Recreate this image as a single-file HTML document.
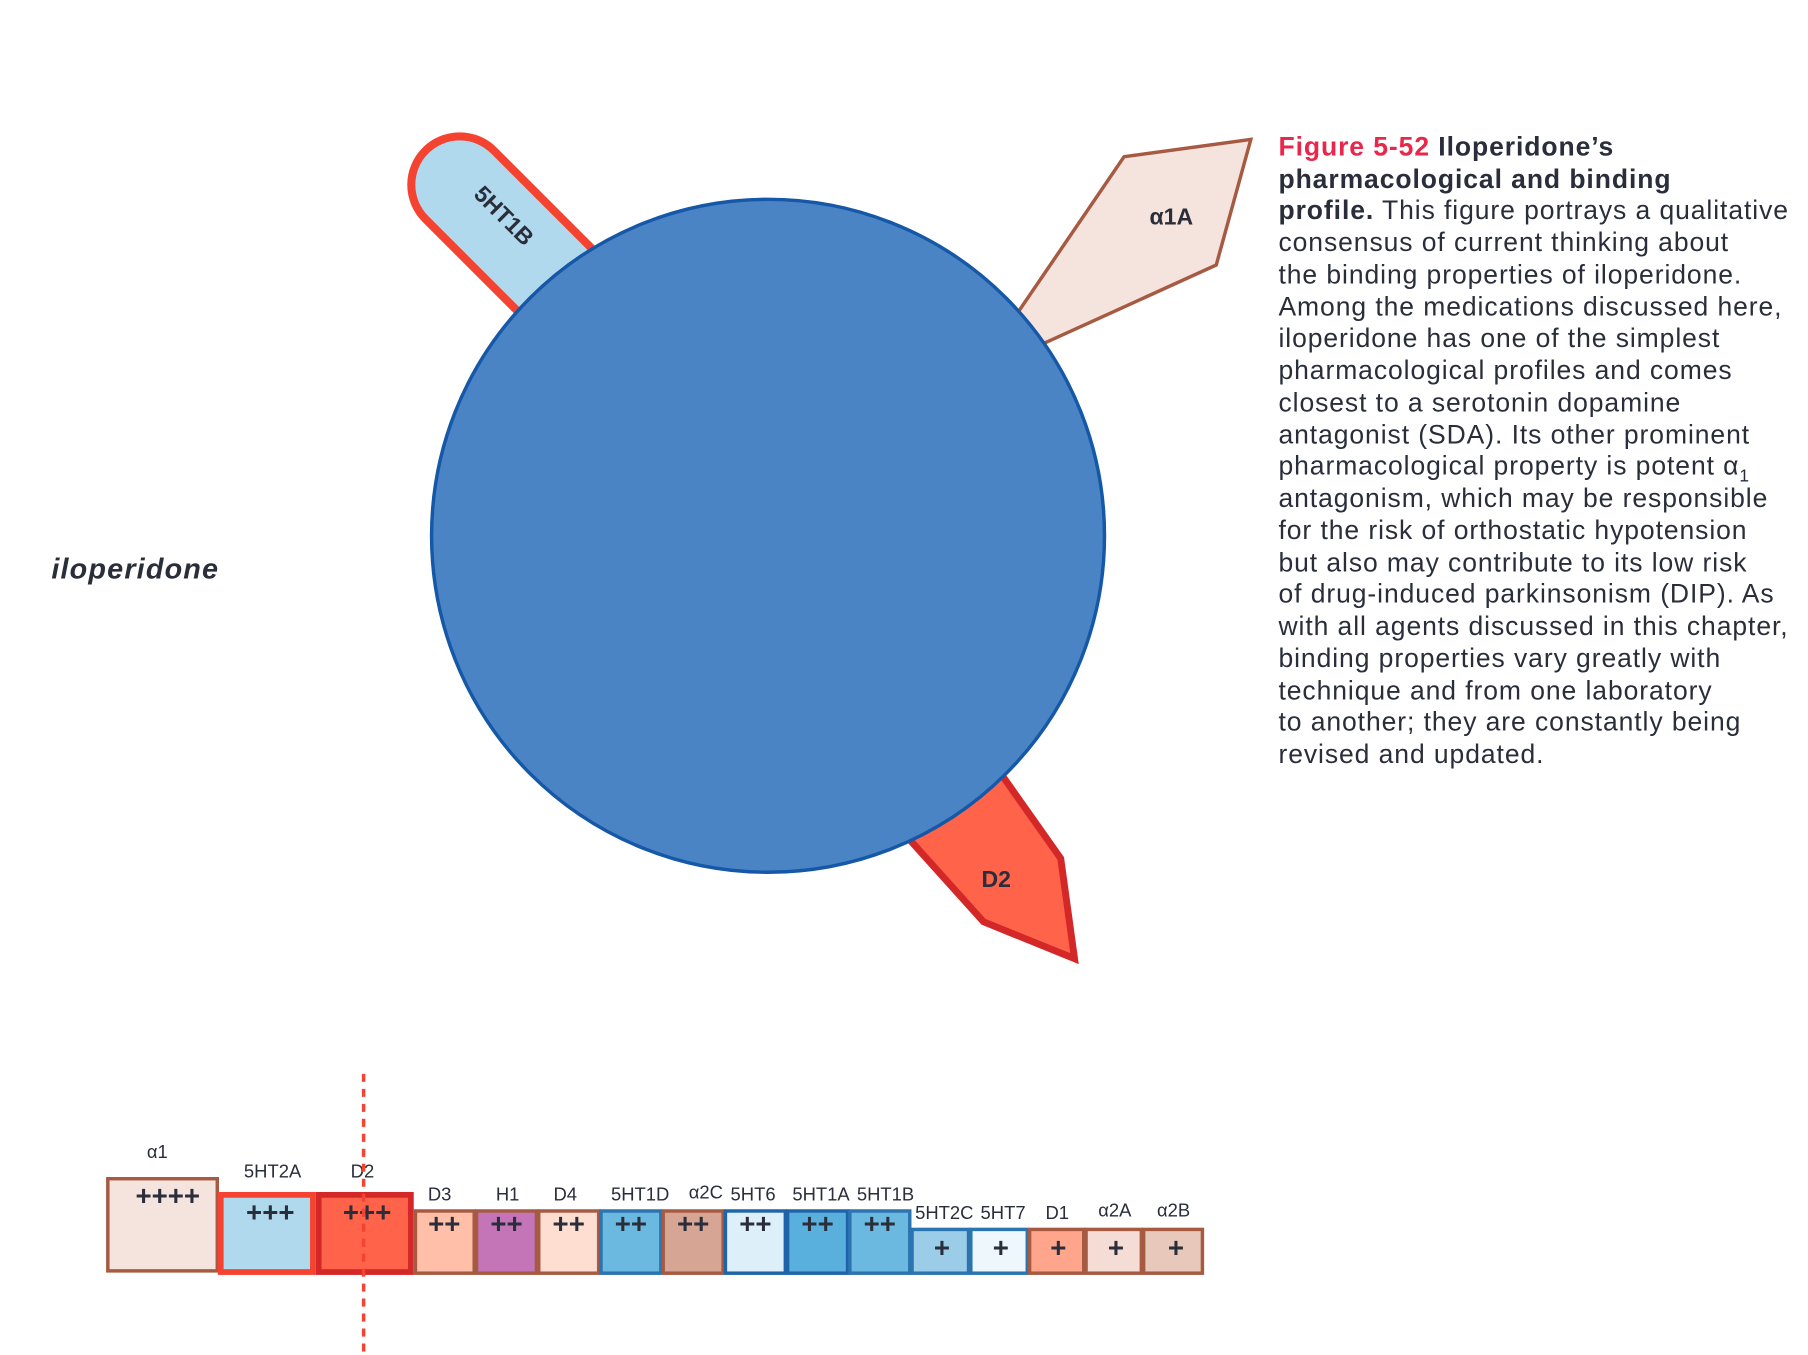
<!DOCTYPE html>
<html><head><meta charset="utf-8"><style>html,body{margin:0;padding:0;background:#fff}svg{display:block}</style></head><body>
<svg width="1808" height="1355" viewBox="0 0 1568 1176" xmlns="http://www.w3.org/2000/svg" font-family="Liberation Sans, sans-serif">
<rect width="1568" height="1176" fill="#fff"/>
<g transform="translate(450,212) rotate(45)">
<rect x="-115" y="-42" width="230" height="84" rx="42" fill="#b0d9ee" stroke="#f44330" stroke-width="7"/>
</g>
<text x="432" y="192" transform="rotate(45 432 192)" font-size="20" font-weight="bold" fill="#2a2e3a" text-anchor="middle">5HT1B</text>
<polygon points="975,136 1085,121 1055,230 890,305 870,290" fill="#f5e3dd" stroke="#a65a42" stroke-width="3"/>
<text x="1016" y="195" font-size="20" font-weight="bold" fill="#2a2e3a" text-anchor="middle">α1A</text>
<polygon points="780,700 860,660 920,745 932,832 853,800 790,730" fill="#ff634a" stroke="#d42828" stroke-width="6" stroke-linejoin="miter"/>
<text x="864" y="770" font-size="20" font-weight="bold" fill="#2a2e3a" text-anchor="middle">D2</text>
<circle cx="666" cy="465" r="292" fill="#4b84c5" stroke="#1558a8" stroke-width="3"/>
<text x="44" y="502" font-size="25" font-weight="bold" font-style="italic" fill="#2a2e3a" letter-spacing="1">iloperidone</text>
<g font-size="23" fill="#2a2e3a" letter-spacing="0.8">
<text x="1109" y="135"><tspan fill="#e8274a" font-weight="bold">Figure 5-52</tspan><tspan font-weight="bold">  Iloperidone’s</tspan></text>
<text x="1109" y="163" font-weight="bold">pharmacological and binding</text>
<text x="1109" y="190"><tspan font-weight="bold">profile.</tspan>  This figure portrays a qualitative</text>
<text x="1109" y="218">consensus of current thinking about</text>
<text x="1109" y="246">the binding properties of iloperidone.</text>
<text x="1109" y="274">Among the medications discussed here,</text>
<text x="1109" y="301">iloperidone has one of the simplest</text>
<text x="1109" y="329">pharmacological profiles and comes</text>
<text x="1109" y="357">closest to a serotonin dopamine</text>
<text x="1109" y="385">antagonist (SDA). Its other prominent</text>
<text x="1109" y="412">pharmacological property is potent α<tspan font-size="15" dy="6">1</tspan></text>
<text x="1109" y="440">antagonism, which may be responsible</text>
<text x="1109" y="468">for the risk of orthostatic hypotension</text>
<text x="1109" y="496">but also may contribute to its low risk</text>
<text x="1109" y="523">of drug-induced parkinsonism (DIP). As</text>
<text x="1109" y="551">with all agents discussed in this chapter,</text>
<text x="1109" y="579">binding properties vary greatly with</text>
<text x="1109" y="607">technique and from one laboratory</text>
<text x="1109" y="634">to another; they are constantly being</text>
<text x="1109" y="662">revised and updated.</text>
</g>
<g stroke-width="3">
<rect x="93" y="1023" width="95" height="80" fill="#f5e3dd" stroke="#a65a42"/>
<rect x="191" y="1037" width="80" height="67" fill="#b0d9ee" stroke="#f44330" stroke-width="5"/>
<rect x="276" y="1037" width="80" height="67" fill="#ff634a" stroke="#d42828" stroke-width="5"/>
<rect x="360" y="1051" width="51" height="54" fill="#ffbfa8" stroke="#a65a42"/>
<rect x="413" y="1051" width="52" height="54" fill="#c375b8" stroke="#a65a42"/>
<rect x="467" y="1051" width="52" height="54" fill="#ffded2" stroke="#a65a42"/>
<rect x="521" y="1051" width="52" height="54" fill="#6bb9e0" stroke="#2b74b0"/>
<rect x="575" y="1051" width="52" height="54" fill="#d6a594" stroke="#a65a42"/>
<rect x="629" y="1051" width="52" height="54" fill="#ddeff8" stroke="#1f64a8"/>
<rect x="683" y="1051" width="52" height="54" fill="#5ab0dc" stroke="#1f64a8"/>
<rect x="737" y="1051" width="52" height="54" fill="#6bb9e0" stroke="#2b74b0"/>
<rect x="791" y="1067" width="49" height="38" fill="#9bcde8" stroke="#2b74b0"/>
<rect x="842" y="1067" width="49" height="38" fill="#eef7fc" stroke="#2b74b0"/>
<rect x="893" y="1067" width="47" height="38" fill="#ffa58c" stroke="#a65a42"/>
<rect x="942" y="1067" width="48" height="38" fill="#f5ddd5" stroke="#a65a42"/>
<rect x="992" y="1067" width="51" height="38" fill="#e9c8bc" stroke="#a65a42"/>
</g>
<g font-size="24" font-weight="bold" fill="#2a2e3a" text-anchor="middle">
<text x="145" y="1046">++++</text>
<text x="234" y="1060">+++</text>
<text x="318" y="1060">+++</text>
<text x="385" y="1070">++</text>
<text x="439" y="1070">++</text>
<text x="493" y="1070">++</text>
<text x="547" y="1070">++</text>
<text x="601" y="1070">++</text>
<text x="655" y="1070">++</text>
<text x="709" y="1070">++</text>
<text x="763" y="1070">++</text>
<text x="817" y="1091">+</text>
<text x="868" y="1091">+</text>
<text x="918" y="1091">+</text>
<text x="968" y="1091">+</text>
<text x="1020" y="1091">+</text>
</g>
<g font-size="16" fill="#2a2e3a" text-anchor="middle">
<text x="136" y="1005">α1</text>
<text x="236" y="1022">5HT2A</text>
<text x="314" y="1022">D2</text>
<text x="381" y="1042">D3</text>
<text x="440" y="1042">H1</text>
<text x="490" y="1042">D4</text>
<text x="555" y="1042">5HT1D</text>
<text x="612" y="1040">α2C</text>
<text x="653" y="1042">5HT6</text>
<text x="712" y="1042">5HT1A</text>
<text x="768" y="1042">5HT1B</text>
<text x="819" y="1058">5HT2C</text>
<text x="870" y="1058">5HT7</text>
<text x="917" y="1058">D1</text>
<text x="967" y="1056">α2A</text>
<text x="1018" y="1056">α2B</text>
</g>
<line x1="315" y1="932" x2="315" y2="1176" stroke="#f44330" stroke-width="3" stroke-dasharray="7,6"/>
</svg>
</body></html>
